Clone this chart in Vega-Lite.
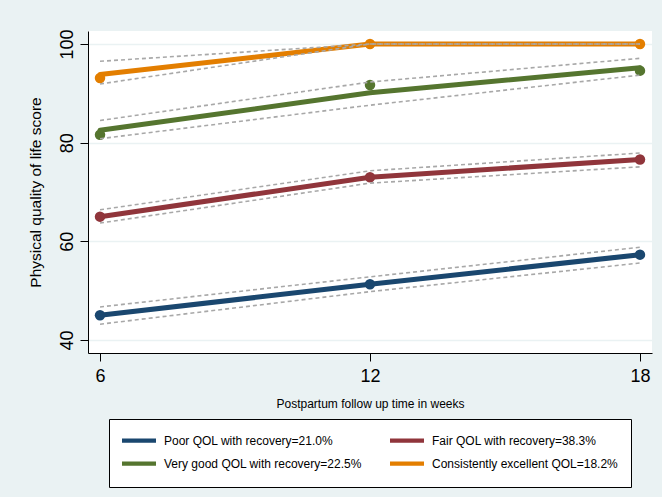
{
  "$schema": "https://vega.github.io/schema/vega-lite/v6.json",
  "width": 564,
  "height": 322,
  "autosize": {"type": "none"},
  "padding": {"left": 88, "top": 31, "right": 10, "bottom": 144},
  "background": "#eaf2f3",
  "config": {
    "view": {"stroke": null, "fill": "white"},
    "font": "Liberation Sans",
    "legend": {"strokeColor": "black"}
  },
  "data": {
    "values": [
      {"group": "Poor QOL with recovery=21.0%", "week": 6, "obs": 45.0, "fit": 45.0, "lo": 43.2, "hi": 46.7},
      {"group": "Poor QOL with recovery=21.0%", "week": 12, "obs": 51.3, "fit": 51.3, "lo": 49.8, "hi": 52.8},
      {"group": "Poor QOL with recovery=21.0%", "week": 18, "obs": 57.3, "fit": 57.3, "lo": 55.6, "hi": 58.8},
      {"group": "Fair QOL with recovery=38.3%", "week": 6, "obs": 65.0, "fit": 65.0, "lo": 63.7, "hi": 66.4},
      {"group": "Fair QOL with recovery=38.3%", "week": 12, "obs": 73.0, "fit": 73.0, "lo": 71.8, "hi": 74.3},
      {"group": "Fair QOL with recovery=38.3%", "week": 18, "obs": 76.6, "fit": 76.6, "lo": 75.1, "hi": 77.9},
      {"group": "Very good QOL with recovery=22.5%", "week": 6, "obs": 81.6, "fit": 82.5, "lo": 80.8, "hi": 84.5},
      {"group": "Very good QOL with recovery=22.5%", "week": 12, "obs": 91.7, "fit": 90.1, "lo": 87.6, "hi": 92.3},
      {"group": "Very good QOL with recovery=22.5%", "week": 18, "obs": 94.6, "fit": 95.2, "lo": 93.7, "hi": 97.1},
      {"group": "Consistently excellent QOL=18.2%", "week": 6, "obs": 93.1, "fit": 93.8, "lo": 91.9, "hi": 96.5},
      {"group": "Consistently excellent QOL=18.2%", "week": 12, "obs": 100, "fit": 100, "lo": 100, "hi": 100},
      {"group": "Consistently excellent QOL=18.2%", "week": 18, "obs": 100, "fit": 100, "lo": 100, "hi": 100}
    ]
  },
  "encoding": {
    "x": {
      "field": "week", "type": "quantitative",
      "scale": {"domain": [5.733, 18.267], "nice": false, "zero": false},
      "axis": {
        "values": [6, 12, 18], "title": "Postpartum follow up time in weeks",
        "grid": false, "domainColor": "black", "domainWidth": 1, "tickColor": "black", "tickSize": 8,
        "labelFontSize": 18, "labelColor": "black", "labelPadding": 6, "labelFont": "Liberation Sans",
        "titleFontSize": 12, "titleFontWeight": "normal", "titleColor": "black", "titlePadding": 13
      }
    },
    "y": {
      "type": "quantitative",
      "scale": {"domain": [37.36, 102.64], "nice": false, "zero": false},
      "axis": {
        "values": [40, 60, 80, 100], "title": "Physical quality of life score",
        "grid": true, "gridColor": "#eaf2f3", "gridWidth": 1.5,
        "domainColor": "black", "domainWidth": 1, "tickColor": "black", "tickSize": 8,
        "labelAngle": -90, "labelAlign": "center", "labelBaseline": "bottom",
        "labelFontSize": 18, "labelColor": "black", "labelPadding": 4,
        "titleFontSize": 15.5, "titleFontWeight": "normal", "titleColor": "black", "titlePadding": 15
      }
    }
  },
  "layer": [
    {
      "mark": {"type": "line", "strokeWidth": 5, "strokeCap": "round"},
      "encoding": {
        "y": {"field": "fit"},
        "color": {
          "field": "group", "type": "nominal",
          "scale": {
            "domain": ["Poor QOL with recovery=21.0%", "Very good QOL with recovery=22.5%", "Fair QOL with recovery=38.3%", "Consistently excellent QOL=18.2%"],
            "range": ["#1a476f", "#55752f", "#90353b", "#e37e00"]
          },
          "legend": {
            "title": null, "orient": "none", "legendX": 21, "legendY": 388, "direction": "vertical", "columns": 2,
            "fillColor": "white", "strokeColor": "black", "padding": 13,
            "symbolType": "M-1,-1.2L-1,1.2M-1,-0.25L3,-0.25L3,0.25L-1,0.25Z", "symbolSize": 289, "symbolStrokeWidth": 0,
            "labelFontSize": 12, "labelColor": "black", "labelOffset": 25, "labelLimit": 400,
            "columnPadding": 28, "rowPadding": 2
          }
        }
      }
    },
    {
      "mark": {"type": "point", "filled": true, "opacity": 1, "size": 110},
      "encoding": {
        "y": {"field": "obs"},
        "color": {"field": "group", "type": "nominal", "legend": null}
      }
    },
    {
      "mark": {"type": "line", "color": "#a8a8a8", "strokeWidth": 1.6, "strokeDash": [4, 3]},
      "encoding": {"y": {"field": "lo"}, "detail": {"field": "group"}}
    },
    {
      "mark": {"type": "line", "color": "#a8a8a8", "strokeWidth": 1.6, "strokeDash": [4, 3]},
      "encoding": {"y": {"field": "hi"}, "detail": {"field": "group"}}
    }
  ]
}
